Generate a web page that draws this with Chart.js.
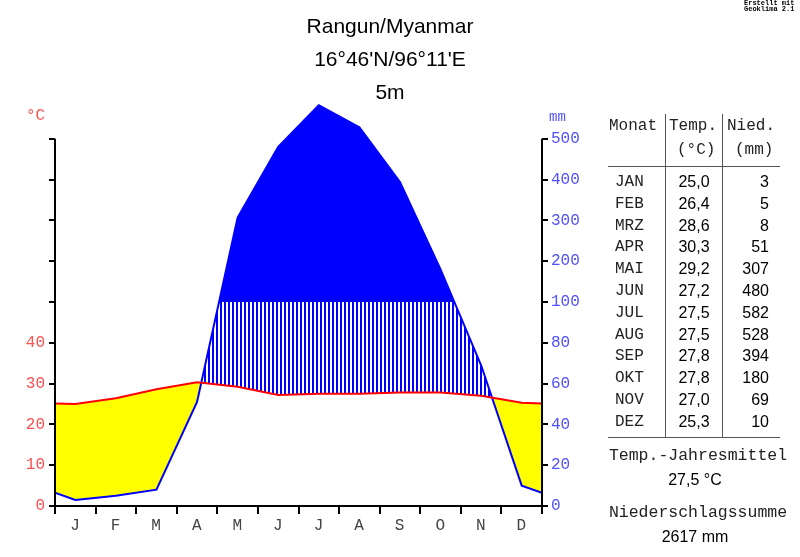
<!DOCTYPE html>
<html>
<head>
<meta charset="utf-8">
<script src="https://cdn.jsdelivr.net/npm/chart.js@4.4.1/dist/chart.umd.min.js"></script>
<style>
  body { margin: 0; background: #fff; }
  #wrap { position: relative; width: 800px; height: 557px; overflow: hidden; }
  #chart { position: absolute; left: 0; top: 0; }
  .t { position: absolute; white-space: nowrap; line-height: 1; }
  .sans { font-family: "Liberation Sans", Arial, sans-serif; }
  .mono { font-family: "Liberation Mono", "Courier New", monospace; }
  .title { font-size: 21px; color: #000; width: 400px; left: 190px; text-align: center; }
  .vline { position: absolute; width: 1px; background: #555; }
  .hline { position: absolute; height: 1px; background: #555; }
</style>
</head>
<body>
<div id="wrap">
  <canvas id="chart" width="800" height="557"></canvas>
</div>
<script>
// climate data Rangun/Myanmar
const months = ['J', 'F', 'M', 'A', 'M', 'J', 'J', 'A', 'S', 'O', 'N', 'D'];
const monthNames = ['JAN', 'FEB', 'MRZ', 'APR', 'MAI', 'JUN', 'JUL', 'AUG', 'SEP', 'OKT', 'NOV', 'DEZ'];
const temperature = [25.0, 26.4, 28.6, 30.3, 29.2, 27.2, 27.5, 27.5, 27.8, 27.8, 27.0, 25.3];
const precipitation = [3, 5, 8, 51, 307, 480, 582, 528, 394, 180, 69, 10];
// values at the year boundary (left/right edge of the plot)
const edgeTemp = 25.15;
const edgePrecip = 6.5;
const tempTicks = [0, 10, 20, 30, 40];
const precipTicks = [0, 20, 40, 60, 80, 100, 200, 300, 400, 500];

// mm -> °C scale of the diagram (20 mm = 10 °C, above 100 mm: 100 mm = 10 °C)
function mmToScale(p) {
    return p <= 100 ? p / 2 : 50 + (p - 100) / 10;
}
function scaleToMm(v) {
    return v <= 50 ? v * 2 : 100 + (v - 50) * 10;
}

function withEdges(values, edge) {
    const pts = [{ x: 0, y: edge }];
    values.forEach((v, i) => pts.push({ x: i + 0.5, y: v }));
    pts.push({ x: 12, y: edge });
    return pts;
}

const tempPoints = withEdges(temperature, edgeTemp);
const precipPoints = withEdges(precipitation.map(mmToScale), mmToScale(edgePrecip));

// vertical hatching for the humid season
const pc = document.createElement('canvas');
pc.width = 4; pc.height = 4;
const pctx = pc.getContext('2d');
pctx.fillStyle = '#0000ff';
pctx.fillRect(0, 0, 2, 4);
const hatch = document.getElementById('chart').getContext('2d').createPattern(pc, 'repeat');

// axis lines, only up to 500 mm
const axisLines = {
    id: 'axisLines',
    afterDatasetsDraw(chart) {
        const ctx = chart.ctx;
        const y = chart.scales.y;
        const x = chart.scales.x;
        const top = y.getPixelForValue(90);
        const bottom = y.getPixelForValue(0);
        ctx.save();
        ctx.strokeStyle = '#000';
        ctx.lineWidth = 2;
        ctx.beginPath();
        ctx.moveTo(x.left, top); ctx.lineTo(x.left, bottom);
        ctx.moveTo(x.right, top); ctx.lineTo(x.right, bottom);
        ctx.moveTo(x.left - 1, bottom); ctx.lineTo(x.right + 1, bottom);
        ctx.stroke();
        ctx.restore();
    }
};

const monoFont = { family: '"Liberation Mono", "Courier New", monospace', size: 16 };

new Chart(document.getElementById('chart'), {
    type: 'line',
    data: {
        datasets: [{
            label: 'Temperatur',
            data: tempPoints,
            borderColor: '#ff0000',
            borderWidth: 2,
            pointRadius: 0,
            fill: false,
            order: 0
        }, {
            label: 'Niederschlag',
            data: precipPoints,
            borderColor: '#0000ff',
            borderWidth: 2,
            pointRadius: 0,
            fill: false,
            order: 1
        }, {
            label: 'humid/arid',
            data: precipPoints,
            borderWidth: 0,
            borderColor: 'rgba(0,0,0,0)',
            pointRadius: 0,
            fill: { target: 0, above: hatch, below: '#ffff00' },
            order: 3
        }, {
            label: 'perhumid',
            data: precipPoints,
            borderWidth: 0,
            borderColor: 'rgba(0,0,0,0)',
            pointRadius: 0,
            fill: { target: { value: 50 }, above: '#0000ff', below: 'rgba(0,0,0,0)' },
            order: 2
        }]
    },
    options: {
        responsive: false,
        animation: false,
        layout: { padding: { top: 98, left: 0, right: 0, bottom: 0 } },
        plugins: { legend: { display: false }, tooltip: { enabled: false } },
        scales: {
            x: {
                type: 'linear',
                min: 0,
                max: 12,
                border: { display: false },
                grid: { drawOnChartArea: false, color: '#000', lineWidth: 2, tickLength: 8 },
                ticks: {
                    stepSize: 1,
                    autoSkip: false,
                    maxRotation: 0,
                    labelOffset: 20,
                    padding: 2,
                    color: '#444',
                    font: monoFont,
                    callback: v => months[v] || ''
                },
                afterFit(scale) { scale.height = 51; }
            },
            y: {
                position: 'left',
                min: 0,
                max: 100,
                border: { display: false },
                grid: {
                    drawOnChartArea: false,
                    lineWidth: 2,
                    tickLength: 6,
                    color: c => (c.tick && c.tick.value <= 90) ? '#000' : 'rgba(0,0,0,0)'
                },
                ticks: {
                    stepSize: 10,
                    padding: 4,
                    color: '#ff5050',
                    font: monoFont,
                    callback: v => tempTicks.includes(v) ? String(v) : ''
                },
                afterFit(scale) { scale.width = 55; }
            },
            y2: {
                position: 'right',
                min: 0,
                max: 100,
                border: { display: false },
                grid: {
                    drawOnChartArea: false,
                    lineWidth: 2,
                    tickLength: 6,
                    color: c => (c.tick && c.tick.value <= 90) ? '#000' : 'rgba(0,0,0,0)'
                },
                ticks: {
                    stepSize: 10,
                    padding: 3,
                    color: '#5050ff',
                    font: monoFont,
                    callback: v => precipTicks.includes(scaleToMm(v)) && v <= 90 ? String(scaleToMm(v)) : ''
                },
                afterFit(scale) { scale.width = 258; }
            }
        }
    },
    plugins: [axisLines]
});

// texts: title, unit labels, table
const wrap = document.getElementById('wrap');
function addText(txt, cls, css) {
    const d = document.createElement('div');
    d.className = 't ' + cls;
    d.textContent = txt;
    Object.assign(d.style, css);
    wrap.appendChild(d);
    return d;
}
function addLine(cls, css) {
    const d = document.createElement('div');
    d.className = cls;
    Object.assign(d.style, css);
    wrap.appendChild(d);
}

addText('Rangun/Myanmar', 'sans title', { top: '15px' });
addText('16°46\'N/96°11\'E', 'sans title', { top: '48px' });
addText('5m', 'sans title', { top: '81px' });
addText('°C', 'mono', { left: '26px', top: '108px', fontSize: '16px', color: '#ff5050' });
addText('mm', 'mono', { left: '549px', top: '110px', fontSize: '14px', color: '#5050ff' });
addText('Erstellt mit', 'mono', { left: '744px', top: '0px', fontSize: '7px', fontWeight: 'bold' });
addText('Geoklima 2.1', 'mono', { left: '744px', top: '6px', fontSize: '7px', fontWeight: 'bold' });

// table
addText('Monat', 'mono', { left: '609px', top: '118px', fontSize: '16px', color: '#222' });
addText('Temp.', 'mono', { left: '669px', top: '118px', fontSize: '16px', color: '#222' });
addText('Nied.', 'mono', { left: '727px', top: '118px', fontSize: '16px', color: '#222' });
addText('(°C)', 'mono', { left: '677px', top: '142px', fontSize: '16px', color: '#222' });
addText('(mm)', 'mono', { left: '735px', top: '142px', fontSize: '16px', color: '#222' });
addLine('vline', { left: '665px', top: '114px', height: '323px' });
addLine('vline', { left: '722px', top: '114px', height: '323px' });
addLine('hline', { left: '608px', top: '166px', width: '172px' });
addLine('hline', { left: '608px', top: '437px', width: '172px' });

monthNames.forEach((m, i) => {
    const top = (174 + i * 21.8) + 'px';
    addText(m, 'mono', { left: '615px', top, fontSize: '16px', color: '#222' });
    addText(temperature[i].toFixed(1).replace('.', ','), 'sans', { left: '666px', width: '56px', textAlign: 'center', top, fontSize: '16px', color: '#000' });
    addText(String(precipitation[i]), 'sans', { left: '722px', width: '47px', textAlign: 'right', top, fontSize: '16px', color: '#000' });
});

const meanTemp = temperature.reduce((a, b) => a + b, 0) / temperature.length;
const sumPrecip = precipitation.reduce((a, b) => a + b, 0);
addText('Temp.-Jahresmittel', 'mono', { left: '598px', width: '200px', textAlign: 'center', top: '448px', fontSize: '16.5px', color: '#222' });
addText(meanTemp.toFixed(1).replace('.', ',') + ' °C', 'sans', { left: '600px', width: '190px', textAlign: 'center', top: '472px', fontSize: '16px', color: '#000' });
addText('Niederschlagssumme', 'mono', { left: '598px', width: '200px', textAlign: 'center', top: '505px', fontSize: '16.5px', color: '#222' });
addText(sumPrecip + ' mm', 'sans', { left: '600px', width: '190px', textAlign: 'center', top: '529px', fontSize: '16px', color: '#000' });
</script>
</body>
</html>
